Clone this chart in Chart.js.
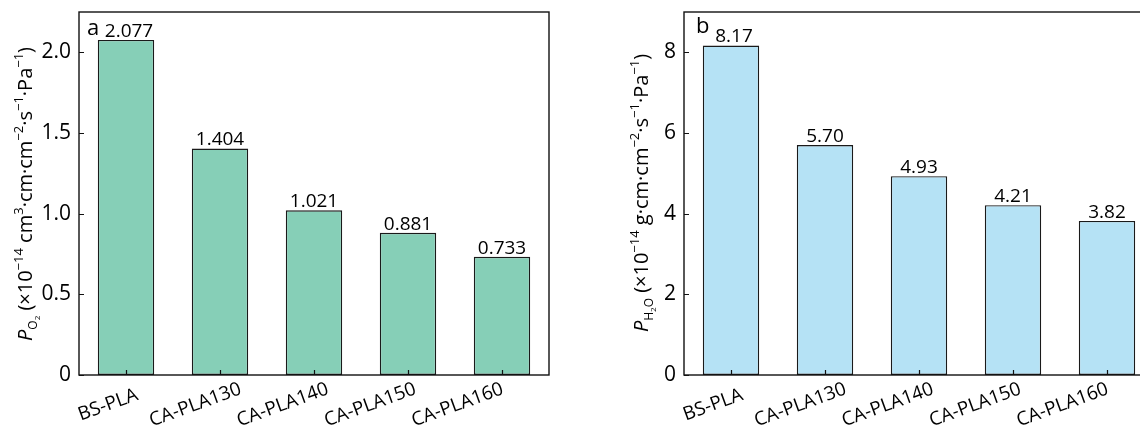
<!DOCTYPE html>
<html>
<head>
<meta charset="utf-8">
<script src="https://cdn.jsdelivr.net/npm/chart.js@4.4.1/dist/chart.umd.min.js"></script>
<style>
  html, body { margin: 0; padding: 0; background: #fff; overflow: hidden; width: 1140px; height: 434px; }
  .panel { position: absolute; top: 0; }
  #wrapA { left: 0; width: 560px; height: 434px; }
  #wrapB { left: 560px; width: 600px; height: 434px; }
</style>
</head>
<body>
<div id="wrapA" class="panel"><canvas id="chartA" width="560" height="434"></canvas></div>
<div id="wrapB" class="panel"><canvas id="chartB" width="600" height="434"></canvas></div>
<script>
// Samples shared by both panels
const categories = ['BS-PLA', 'CA-PLA130', 'CA-PLA140', 'CA-PLA150', 'CA-PLA160'];

// Oxygen permeability, ×10^-14 cm³·cm·cm⁻²·s⁻¹·Pa⁻¹
const o2Values = [2.077, 1.404, 1.021, 0.881, 0.733];
const o2Ticks = [0, 0.5, 1.0, 1.5, 2.0];

// Water vapour permeability, ×10^-14 g·cm·cm⁻²·s⁻¹·Pa⁻¹
const h2oValues = [8.17, 5.70, 4.93, 4.21, 3.82];
const h2oTicks = [0, 2, 4, 6, 8];

const FONT = '"Open Sans", "Noto Sans", "DejaVu Sans", sans-serif';
const INK = '#000';

// Axis titles as runs of text with sub/superscripts
const o2Title = [
  { t: 'P', s: 20, dy: 0, it: true },
  { t: 'O', s: 12, dy: 5 },
  { t: '2', s: 8, dy: 8 },
  { t: ' (×10', s: 20, dy: 0 },
  { t: '−14', s: 13, dy: -9 },
  { t: ' cm', s: 20, dy: 0 },
  { t: '3', s: 13, dy: -9 },
  { t: '·cm·cm', s: 20, dy: 0 },
  { t: '−2', s: 13, dy: -9 },
  { t: '·s', s: 20, dy: 0 },
  { t: '−1', s: 13, dy: -9 },
  { t: '·Pa', s: 20, dy: 0 },
  { t: '−1', s: 13, dy: -9 },
  { t: ')', s: 20, dy: 0 }
];
const h2oTitle = [
  { t: 'P', s: 20, dy: 0, it: true },
  { t: 'H', s: 12, dy: 5 },
  { t: '2', s: 8, dy: 8 },
  { t: 'O', s: 12, dy: 5 },
  { t: ' (×10', s: 20, dy: 0 },
  { t: '−14', s: 13, dy: -9 },
  { t: ' g·cm·cm', s: 20, dy: 0 },
  { t: '−2', s: 13, dy: -9 },
  { t: '·s', s: 20, dy: 0 },
  { t: '−1', s: 13, dy: -9 },
  { t: '·Pa', s: 20, dy: 0 },
  { t: '−1', s: 13, dy: -9 },
  { t: ')', s: 20, dy: 0 }
];

function runFont(r) {
  return (r.it ? 'italic ' : '') + r.s + 'px ' + FONT;
}

function drawRuns(ctx, runs, cx, cy) {
  ctx.save();
  ctx.translate(cx, cy);
  ctx.rotate(-Math.PI / 2);
  let total = 0;
  runs.forEach(r => { ctx.font = runFont(r); total += ctx.measureText(r.t).width; });
  let x = -total / 2;
  ctx.fillStyle = INK;
  ctx.textBaseline = 'alphabetic';
  ctx.textAlign = 'left';
  runs.forEach(r => {
    ctx.font = runFont(r);
    ctx.fillText(r.t, x, 7 + r.dy);
    x += ctx.measureText(r.t).width;
  });
  ctx.restore();
}

// Frame, inward ticks, value labels, slanted category labels, axis title, panel letter
const decor = {
  id: 'decor',
  afterDatasetsDraw(chart, args, opts) {
    const ctx = chart.ctx;
    const area = chart.chartArea;
    const xs = chart.scales.x;
    const ys = chart.scales.y;
    ctx.save();

    // plot frame
    ctx.strokeStyle = '#111';
    ctx.lineWidth = 1.4;
    ctx.strokeRect(area.left, area.top, area.right - area.left, area.bottom - area.top);

    // inward tick marks
    ctx.lineWidth = 1.2;
    ctx.beginPath();
    ys.ticks.forEach(tk => {
      const y = Math.round(ys.getPixelForValue(tk.value)) + 0.5;
      ctx.moveTo(area.left, y);
      ctx.lineTo(area.left + 5, y);
    });
    categories.forEach((c, i) => {
      const x = Math.round(xs.getPixelForValue(i)) + 0.5;
      ctx.moveTo(x, area.bottom);
      ctx.lineTo(x, area.bottom - 5);
    });
    ctx.stroke();

    // value labels above the bars
    const meta = chart.getDatasetMeta(0);
    const values = chart.data.datasets[0].data;
    ctx.font = '19px ' + FONT;
    ctx.fillStyle = INK;
    ctx.textAlign = 'center';
    ctx.textBaseline = 'alphabetic';
    meta.data.forEach((bar, i) => {
      ctx.fillText(values[i].toFixed(opts.digits), bar.x + (i === 0 ? 3 : 0), bar.y - 3);
    });

    // slanted category labels
    ctx.font = '19px ' + FONT;
    ctx.textAlign = 'center';
    ctx.textBaseline = 'middle';
    categories.forEach((c, i) => {
      const x = xs.getPixelForValue(i) - 18 - 6.6 * i;
      ctx.save();
      ctx.translate(x, area.bottom + 30);
      ctx.rotate(-20 * Math.PI / 180);
      ctx.fillText(c, 0, 0);
      ctx.restore();
    });

    // panel letter
    ctx.font = '22px ' + FONT;
    ctx.textAlign = 'left';
    ctx.textBaseline = 'alphabetic';
    ctx.fillText(opts.letter, area.left + opts.letterDx, opts.letterY);

    // y axis title
    drawRuns(ctx, opts.title, opts.titleX, opts.titleY);
    ctx.restore();
  }
};

function makeChart(id, values, ticks, color, max, cfg) {
  return new Chart(document.getElementById(id), {
    type: 'bar',
    data: {
      labels: categories,
      datasets: [{
        data: values,
        backgroundColor: color,
        borderColor: '#1a1a1a',
        borderWidth: 1.4,
        borderSkipped: false,
        barPercentage: 0.6,
        categoryPercentage: 1.0
      }]
    },
    options: {
      responsive: false,
      animation: false,
      layout: { padding: { top: 12, right: cfg.padRight, left: 0, bottom: 0 } },
      plugins: {
        legend: { display: false },
        tooltip: { enabled: false },
        decor: cfg.decor
      },
      scales: {
        x: {
          offset: true,
          grid: { display: false, drawTicks: false },
          border: { display: false },
          ticks: { display: false },
          afterFit(scale) {
            scale.height = 59;
            scale.paddingLeft = 0;
            scale.paddingRight = 0;
          }
        },
        y: {
          min: 0,
          max: max,
          grid: { display: false, drawTicks: false },
          border: { display: false },
          afterBuildTicks(scale) { scale.ticks = ticks.map(v => ({ value: v })); },
          afterFit(scale) {
            scale.width = cfg.yWidth;
            scale.paddingTop = 0;
            scale.paddingBottom = 0;
          },
          ticks: {
            padding: 8,
            color: INK,
            font: { family: FONT, size: 21 },
            callback: cfg.tickFmt
          }
        }
      }
    },
    plugins: [decor]
  });
}

makeChart('chartA', o2Values, o2Ticks, '#86cfb7', 2.25, {
  padRight: 11,
  yWidth: 79,
  tickFmt: v => (v === 0 ? '0' : v.toFixed(1)),
  decor: { digits: 3, letter: 'a', letterDx: 8, letterY: 35, title: o2Title, titleX: 25, titleY: 194 }
});

makeChart('chartB', h2oValues, h2oTicks, '#b5e2f5', 9, {
  padRight: 6,
  yWidth: 124,
  tickFmt: v => String(v),
  decor: { digits: 2, letter: 'b', letterDx: 12, letterY: 33, title: h2oTitle, titleX: 81, titleY: 193 }
});
</script>
</body>
</html>
